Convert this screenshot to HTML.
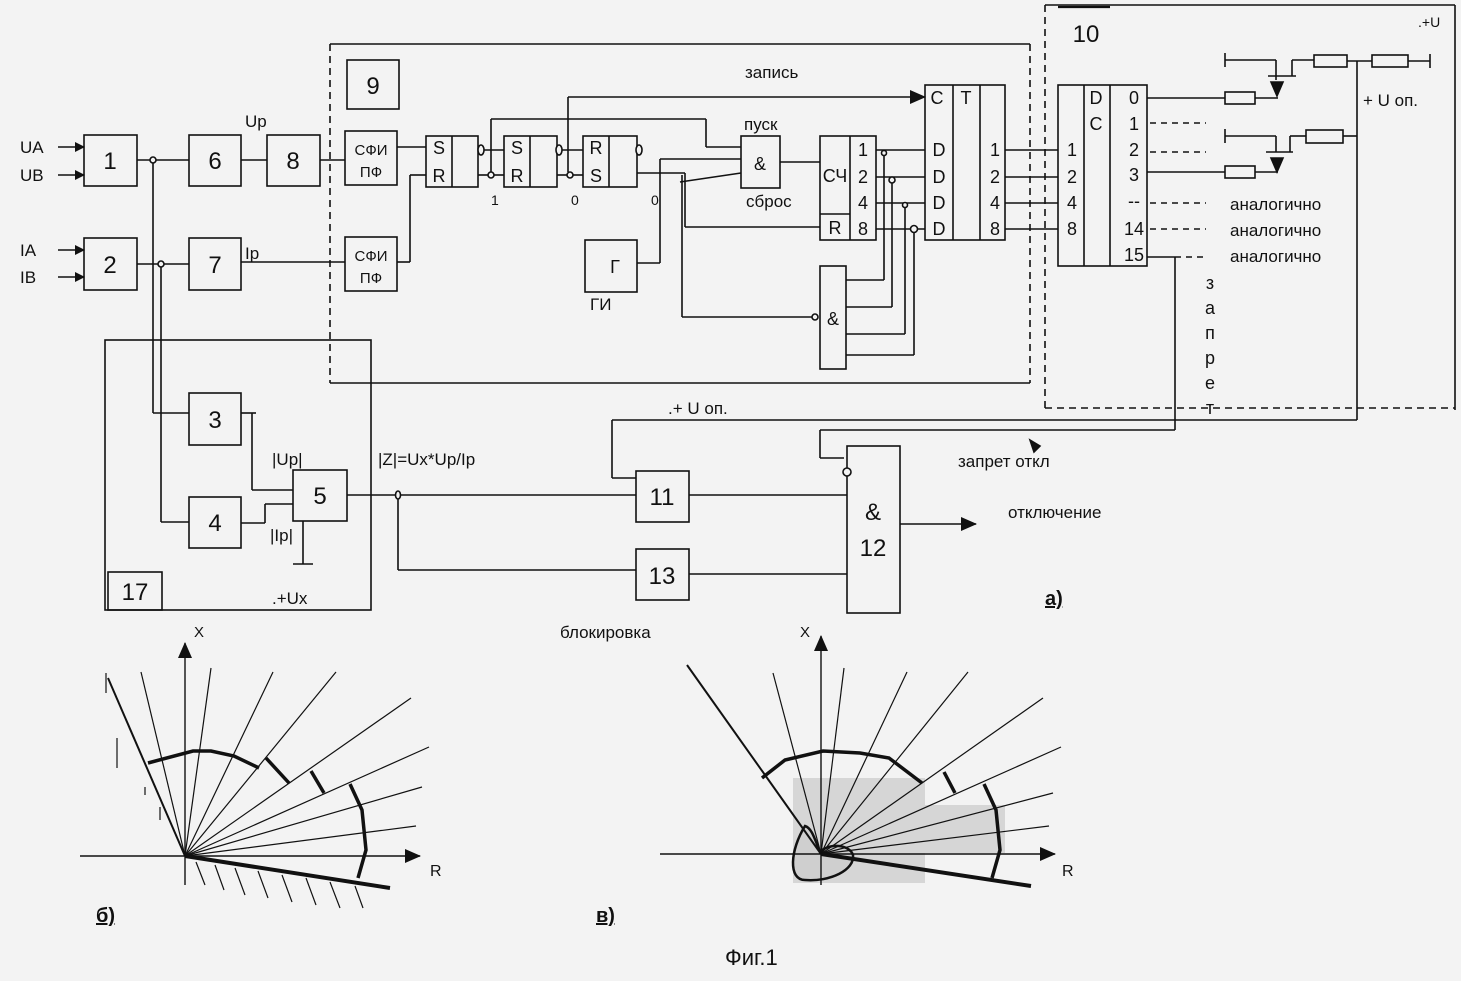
<!DOCTYPE html>
<html><head><meta charset="utf-8"><style>
html,body{margin:0;padding:0;background:#f3f3f3}
svg{display:block}
text{font-family:"Liberation Sans","DejaVu Sans",sans-serif;fill:#111}
</style></head><body>
<svg width="1461" height="981" viewBox="0 0 1461 981" xmlns="http://www.w3.org/2000/svg">
<defs>
<marker id="ar" markerWidth="10" markerHeight="10" refX="9" refY="5" orient="auto" markerUnits="userSpaceOnUse"><path d="M0,0 L10,5 L0,10z" fill="#111"/></marker>
<marker id="ar2" markerWidth="16" markerHeight="14" refX="15" refY="7" orient="auto" markerUnits="userSpaceOnUse"><path d="M0,0 L16,7 L0,14z" fill="#111"/></marker>
</defs>
<g stroke="#111" stroke-width="1.6" fill="none">
<line x1="58" y1="147" x2="84" y2="147" marker-end="url(#ar)"/>
<line x1="58" y1="175" x2="84" y2="175" marker-end="url(#ar)"/>
<line x1="58" y1="250" x2="84" y2="250" marker-end="url(#ar)"/>
<line x1="58" y1="277" x2="84" y2="277" marker-end="url(#ar)"/>
<rect x="84" y="135" width="53" height="51"/>
<rect x="84" y="238" width="53" height="52"/>
<rect x="189" y="135" width="52" height="51"/>
<rect x="189" y="238" width="52" height="52"/>
<rect x="267" y="135" width="53" height="51"/>
<line x1="137" y1="160" x2="189" y2="160"/>
<line x1="137" y1="264" x2="189" y2="264"/>
<line x1="241" y1="160" x2="267" y2="160"/>
<circle cx="153" cy="160" r="3" fill="#f3f3f3"/>
<circle cx="161" cy="264" r="3" fill="#f3f3f3"/>
<line x1="153" y1="163" x2="153" y2="413"/><line x1="153" y1="413" x2="189" y2="413"/>
<line x1="161" y1="267" x2="161" y2="522"/><line x1="161" y1="522" x2="189" y2="522"/>
<line x1="330" y1="44" x2="1030" y2="44"/>
<line x1="330" y1="44" x2="330" y2="383" stroke-dasharray="7,5"/>
<line x1="1030" y1="44" x2="1030" y2="383" stroke-dasharray="7,5"/>
<line x1="330" y1="383" x2="1030" y2="383"/>
<rect x="347" y="60" width="52" height="49"/>
<rect x="345" y="131" width="52" height="54"/>
<rect x="345" y="237" width="52" height="54"/>
<line x1="320" y1="160" x2="345" y2="160"/>
<line x1="241" y1="262" x2="345" y2="262"/>
<line x1="397" y1="147" x2="426" y2="147"/>
<line x1="397" y1="262" x2="410" y2="262"/><line x1="410" y1="262" x2="410" y2="175"/><line x1="410" y1="175" x2="426" y2="175"/>
<rect x="426" y="136" width="52" height="51"/><line x1="452" y1="136" x2="452" y2="187"/>
<rect x="504" y="136" width="53" height="51"/><line x1="530" y1="136" x2="530" y2="187"/>
<rect x="583" y="136" width="54" height="51"/><line x1="609" y1="136" x2="609" y2="187"/>
<ellipse cx="481" cy="150" rx="3" ry="5" fill="#f3f3f3"/>
<ellipse cx="559" cy="150" rx="3" ry="5" fill="#f3f3f3"/>
<ellipse cx="639" cy="150" rx="3" ry="5" fill="#f3f3f3"/>
<line x1="484" y1="150" x2="504" y2="150"/>
<line x1="562" y1="150" x2="583" y2="150"/>
<line x1="478" y1="175" x2="488" y2="175"/><circle cx="491" cy="175" r="3" fill="#f3f3f3"/><line x1="494" y1="175" x2="504" y2="175"/>
<line x1="491" y1="172" x2="491" y2="119"/><line x1="491" y1="119" x2="706" y2="119"/><line x1="706" y1="119" x2="706" y2="147"/><line x1="706" y1="147" x2="741" y2="147"/>
<line x1="557" y1="175" x2="567" y2="175"/><circle cx="570" cy="175" r="3" fill="#f3f3f3"/><line x1="573" y1="175" x2="583" y2="175"/>
<line x1="568" y1="172" x2="568" y2="97"/><line x1="568" y1="97" x2="925" y2="97" marker-end="url(#ar2)"/>
<line x1="637" y1="173" x2="685" y2="173"/>
<line x1="680" y1="182" x2="741" y2="173"/>
<line x1="682" y1="175" x2="682" y2="317"/><line x1="682" y1="317" x2="812" y2="317"/>
<circle cx="815" cy="317" r="3" fill="#f3f3f3"/>
<line x1="685" y1="173" x2="685" y2="227"/><line x1="685" y1="227" x2="820" y2="227"/>
<rect x="585" y="240" width="52" height="52"/>
<line x1="637" y1="263" x2="660" y2="263"/><line x1="660" y1="263" x2="660" y2="159"/><line x1="660" y1="159" x2="741" y2="159"/>
<rect x="741" y="136" width="39" height="52"/>
<line x1="780" y1="162" x2="820" y2="162"/>
<rect x="820" y="136" width="56" height="104"/><line x1="850" y1="136" x2="850" y2="240"/><line x1="820" y1="214" x2="850" y2="214"/>
<line x1="876" y1="150" x2="925" y2="150"/>
<line x1="876" y1="177" x2="925" y2="177"/>
<line x1="876" y1="203" x2="925" y2="203"/>
<line x1="876" y1="229" x2="925" y2="229"/>
<circle cx="884" cy="153" r="2.5" fill="#f3f3f3"/>
<circle cx="892" cy="180" r="3" fill="#f3f3f3"/>
<circle cx="905" cy="205" r="2.5" fill="#f3f3f3"/>
<circle cx="914" cy="229" r="3.5" fill="#f3f3f3"/>
<line x1="884" y1="156" x2="884" y2="280"/><line x1="884" y1="280" x2="846" y2="280"/>
<line x1="892" y1="183" x2="892" y2="307"/><line x1="892" y1="307" x2="846" y2="307"/>
<line x1="905" y1="208" x2="905" y2="334"/><line x1="905" y1="334" x2="846" y2="334"/>
<line x1="914" y1="233" x2="914" y2="355"/><line x1="914" y1="355" x2="846" y2="355"/>
<rect x="820" y="266" width="26" height="103"/>
<rect x="925" y="85" width="80" height="155"/><line x1="953" y1="85" x2="953" y2="240"/><line x1="980" y1="85" x2="980" y2="240"/>
<line x1="1005" y1="150" x2="1058" y2="150"/>
<line x1="1005" y1="177" x2="1058" y2="177"/>
<line x1="1005" y1="203" x2="1058" y2="203"/>
<line x1="1005" y1="229" x2="1058" y2="229"/>
<line x1="1045" y1="5" x2="1455" y2="5"/>
<line x1="1058" y1="7" x2="1110" y2="7" stroke-width="2.2"/>
<line x1="1045" y1="5" x2="1045" y2="408" stroke-dasharray="7,5"/>
<line x1="1455" y1="5" x2="1455" y2="410"/>
<line x1="1045" y1="408" x2="1455" y2="408" stroke-dasharray="7,5"/>
<rect x="1058" y="85" width="89" height="181"/><line x1="1084" y1="85" x2="1084" y2="266"/><line x1="1110" y1="85" x2="1110" y2="266"/>
<line x1="1147" y1="98" x2="1225" y2="98"/>
<line x1="1147" y1="172" x2="1225" y2="172"/>
<g stroke-dasharray="6,5">
<line x1="1150" y1="123" x2="1206" y2="123"/>
<line x1="1150" y1="152" x2="1206" y2="152"/>
<line x1="1150" y1="203" x2="1206" y2="203"/>
<line x1="1150" y1="229" x2="1206" y2="229"/>
<line x1="1175" y1="257" x2="1206" y2="257"/>
</g>
<line x1="1147" y1="257" x2="1175" y2="257"/>
<rect x="1225" y="92" width="30" height="12"/>
<rect x="1225" y="166" width="30" height="12"/>
<line x1="1255" y1="98" x2="1278" y2="98"/>
<line x1="1255" y1="172" x2="1278" y2="172"/>
<line x1="1225" y1="53" x2="1225" y2="67"/><line x1="1225" y1="60" x2="1276" y2="60"/><line x1="1276" y1="60" x2="1276" y2="80"/>
<line x1="1268" y1="76" x2="1296" y2="76"/><line x1="1292" y1="76" x2="1292" y2="60"/><line x1="1292" y1="60" x2="1314" y2="60"/>
<path d="M1271,82 L1283,82 L1277,96z" fill="#111"/>
<rect x="1314" y="55" width="33" height="12"/>
<line x1="1347" y1="61" x2="1372" y2="61"/>
<rect x="1372" y="55" width="36" height="12"/>
<line x1="1408" y1="61" x2="1430" y2="61"/><line x1="1430" y1="54" x2="1430" y2="68"/>
<line x1="1225" y1="129" x2="1225" y2="143"/><line x1="1225" y1="136" x2="1276" y2="136"/><line x1="1276" y1="136" x2="1276" y2="152"/>
<line x1="1266" y1="152" x2="1293" y2="152"/><line x1="1290" y1="152" x2="1290" y2="136"/><line x1="1290" y1="136" x2="1306" y2="136"/>
<path d="M1271,158 L1283,158 L1277,172z" fill="#111"/>
<rect x="1306" y="130" width="37" height="13"/>
<line x1="1343" y1="136" x2="1357" y2="136"/>
<line x1="1357" y1="61" x2="1357" y2="420"/>
<line x1="1175" y1="257" x2="1175" y2="430"/>
<line x1="1175" y1="430" x2="820" y2="430"/><line x1="820" y1="430" x2="820" y2="458"/><line x1="820" y1="458" x2="844" y2="458"/>
<line x1="1357" y1="420" x2="612" y2="420"/><line x1="612" y1="420" x2="612" y2="478"/><line x1="612" y1="478" x2="636" y2="478"/>
<path d="M1030,440 L1040,446 L1034,452z" fill="#111"/>
<rect x="105" y="340" width="266" height="270"/>
<rect x="108" y="572" width="54" height="38"/>
<rect x="189" y="393" width="52" height="52"/>
<rect x="189" y="497" width="52" height="51"/>
<rect x="293" y="470" width="54" height="51"/>
<line x1="241" y1="413" x2="256" y2="413"/><line x1="252" y1="413" x2="252" y2="490"/><line x1="252" y1="490" x2="293" y2="490"/>
<line x1="241" y1="523" x2="265" y2="523"/><line x1="265" y1="523" x2="265" y2="504"/><line x1="265" y1="504" x2="293" y2="504"/>
<line x1="303" y1="521" x2="303" y2="564"/><line x1="293" y1="564" x2="313" y2="564"/>
<line x1="347" y1="495" x2="396" y2="495"/>
<ellipse cx="398" cy="495" rx="2.5" ry="4" fill="#f3f3f3"/>
<line x1="400" y1="495" x2="636" y2="495"/>
<line x1="398" y1="499" x2="398" y2="570"/><line x1="398" y1="570" x2="636" y2="570"/>
<rect x="636" y="471" width="53" height="51"/>
<rect x="636" y="549" width="53" height="51"/>
<line x1="689" y1="495" x2="847" y2="495"/>
<line x1="689" y1="574" x2="847" y2="574"/>
<rect x="847" y="446" width="53" height="167"/>
<circle cx="847" cy="472" r="4" fill="#f3f3f3"/>
<line x1="900" y1="524" x2="976" y2="524" marker-end="url(#ar2)"/>
</g>
<g font-size="17">
<text x="20" y="153">UA</text><text x="20" y="181">UB</text>
<text x="20" y="256">IA</text><text x="20" y="283">IB</text>
<text x="245" y="127">Up</text><text x="245" y="259">Ip</text>
<text x="745" y="78">запись</text>
<text x="744" y="130">пуск</text><text x="746" y="207">сброс</text>
<text x="491" y="205" font-size="14">1</text><text x="571" y="205" font-size="14">0</text><text x="651" y="205" font-size="14">0</text>
<text x="590" y="310">ГИ</text>
<text x="1230" y="210">аналогично</text><text x="1230" y="236">аналогично</text><text x="1230" y="262">аналогично</text>
<text x="1363" y="106">+  U оп.</text>
<text x="1418" y="27" font-size="14">.+U</text>
<text x="958" y="467">запрет откл</text>
<text x="1008" y="518">отключение</text>
<text x="668" y="414">.+ U оп.</text>
<text x="272" y="465">|Up|</text><text x="270" y="541">|Ip|</text>
<text x="378" y="465">|Z|=Ux*Up/Ip</text>
<text x="272" y="604">.+Ux</text>
<text x="560" y="638">блокировка</text>
</g>
<g font-size="18" text-anchor="middle">
<text x="1210" y="289">з</text><text x="1210" y="314">а</text><text x="1210" y="339">п</text><text x="1210" y="364">р</text><text x="1210" y="389">е</text><text x="1210" y="414">т</text>
</g>
<g font-size="15" text-anchor="middle">
<text x="371" y="155">СФИ</text><text x="371" y="177">ПФ</text>
<text x="371" y="261">СФИ</text><text x="371" y="283">ПФ</text>
</g>
<g font-size="18" text-anchor="middle">
<text x="439" y="154">S</text><text x="439" y="182">R</text>
<text x="517" y="154">S</text><text x="517" y="182">R</text>
<text x="596" y="154">R</text><text x="596" y="182">S</text>
<text x="760" y="170">&amp;</text>
<text x="835" y="182">СЧ</text><text x="835" y="234">R</text>
<text x="863" y="156">1</text><text x="863" y="183">2</text><text x="863" y="209">4</text><text x="863" y="235">8</text>
<text x="937" y="104">C</text><text x="966" y="104">T</text>
<text x="939" y="156">D</text><text x="939" y="183">D</text><text x="939" y="209">D</text><text x="939" y="235">D</text>
<text x="995" y="156">1</text><text x="995" y="183">2</text><text x="995" y="209">4</text><text x="995" y="235">8</text>
<text x="833" y="325">&amp;</text>
<text x="1096" y="104">D</text><text x="1096" y="130">C</text>
<text x="1072" y="156">1</text><text x="1072" y="183">2</text><text x="1072" y="209">4</text><text x="1072" y="235">8</text>
<text x="1134" y="104">0</text><text x="1134" y="130">1</text><text x="1134" y="156">2</text><text x="1134" y="181">3</text>
<text x="1134" y="207">--</text><text x="1134" y="235">14</text><text x="1134" y="261">15</text>
<text x="615" y="273">Г</text>
</g>
<g font-size="24" text-anchor="middle">
<text x="110" y="169">1</text><text x="110" y="273">2</text>
<text x="215" y="169">6</text><text x="215" y="273">7</text>
<text x="293" y="169">8</text>
<text x="373" y="94">9</text>
<text x="1086" y="42">10</text>
<text x="215" y="428">3</text><text x="215" y="531">4</text><text x="320" y="504">5</text>
<text x="135" y="600">17</text>
<text x="662" y="505">11</text><text x="662" y="584">13</text>
<text x="873" y="520">&amp;</text><text x="873" y="556">12</text>
</g>
<text x="1045" y="605" font-size="20" font-weight="bold" text-decoration="underline">а)</text>
<g stroke="#111" fill="none">
<line x1="80" y1="856" x2="420" y2="856" stroke-width="1.4" marker-end="url(#ar2)"/>
<line x1="185" y1="885" x2="185" y2="643" stroke-width="1.4" marker-end="url(#ar2)"/>
<line x1="185" y1="856" x2="108" y2="678" stroke-width="2"/>
<line x1="185" y1="856" x2="390" y2="888" stroke-width="4"/>
<g stroke-width="1.2">
<line x1="185" y1="856" x2="141" y2="672"/><line x1="185" y1="856" x2="211" y2="668"/>
<line x1="185" y1="856" x2="273" y2="672"/><line x1="185" y1="856" x2="336" y2="672"/>
<line x1="185" y1="856" x2="411" y2="698"/><line x1="185" y1="856" x2="429" y2="747"/>
<line x1="185" y1="856" x2="422" y2="787"/><line x1="185" y1="856" x2="416" y2="826"/>
<line x1="196" y1="862" x2="205" y2="885"/><line x1="215" y1="865" x2="224" y2="890"/>
<line x1="235" y1="868" x2="245" y2="895"/><line x1="258" y1="871" x2="268" y2="898"/>
<line x1="282" y1="875" x2="292" y2="902"/><line x1="306" y1="878" x2="316" y2="905"/>
<line x1="330" y1="882" x2="340" y2="908"/><line x1="355" y1="886" x2="363" y2="908"/>
<line x1="106" y1="673" x2="106" y2="693"/><line x1="117" y1="738" x2="117" y2="768"/>
<line x1="145" y1="787" x2="145" y2="795"/><line x1="160" y1="807" x2="160" y2="820"/>
</g>
<g stroke-width="3.5">
<polyline points="148,763 193,751 211,751 234,756 259,768"/>
<polyline points="266,758 289,783"/>
<polyline points="311,771 324,793"/>
<polyline points="350,784 362,810 366,850 358,878"/>
</g>
</g>
<text x="194" y="637" font-size="15">X</text>
<text x="430" y="876" font-size="16">R</text>
<text x="96" y="922" font-size="20" font-weight="bold" text-decoration="underline">б)</text>
<rect x="793" y="778" width="132" height="105" fill="#d6d6d6"/>
<rect x="925" y="805" width="80" height="48" fill="#d6d6d6"/>
<path d="M805,826 C790,850 788,880 805,880 C830,882 855,870 853,855 C850,845 830,842 820,852 C815,840 812,828 805,826z" fill="#cfcfcf" stroke="#111" stroke-width="2.5"/>
<g stroke="#111" fill="none">
<line x1="660" y1="854" x2="1055" y2="854" stroke-width="1.4" marker-end="url(#ar2)"/>
<line x1="821" y1="885" x2="821" y2="636" stroke-width="1.4" marker-end="url(#ar2)"/>
<line x1="821" y1="854" x2="687" y2="665" stroke-width="2"/>
<line x1="821" y1="854" x2="1031" y2="886" stroke-width="4"/>
<g stroke-width="1.2">
<line x1="821" y1="854" x2="773" y2="673"/><line x1="821" y1="854" x2="844" y2="668"/>
<line x1="821" y1="854" x2="907" y2="672"/><line x1="821" y1="854" x2="968" y2="672"/>
<line x1="821" y1="854" x2="1043" y2="698"/><line x1="821" y1="854" x2="1061" y2="747"/>
<line x1="821" y1="854" x2="1053" y2="793"/><line x1="821" y1="854" x2="1049" y2="826"/>
</g>
<g stroke-width="3.5">
<polyline points="762,778 785,760 823,751 860,753 889,758 922,783"/>
<polyline points="944,772 955,793"/>
<polyline points="984,784 996,810 1000,850 992,878"/>
</g>
</g>
<text x="800" y="637" font-size="15">X</text>
<text x="1062" y="876" font-size="16">R</text>
<text x="596" y="922" font-size="20" font-weight="bold" text-decoration="underline">в)</text>
<text x="725" y="965" font-size="22">Фиг.1</text>
</svg>
</body></html>
